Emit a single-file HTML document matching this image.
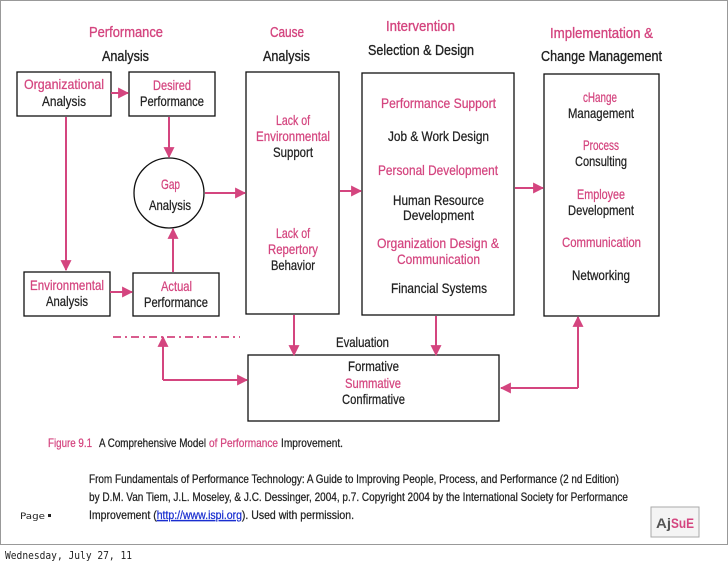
<!DOCTYPE html>
<html><head><meta charset="utf-8"><style>
html,body{margin:0;padding:0;background:#fff;}
svg{display:block;}
text{font-family:"Liberation Sans Narrow","Liberation Sans",sans-serif;font-size:14px;fill:#222;stroke:#222;stroke-width:0.25px;}
.p{fill:#d4457f;stroke:#d4457f;}
.s{font-size:12px;}
.t{font-size:15px;stroke-width:0.35px;}
</style></head><body>
<svg width="728" height="567" viewBox="0 0 728 567" xmlns="http://www.w3.org/2000/svg">
<defs>
<marker id="a" viewBox="0 0 10 10" refX="9" refY="5" markerWidth="5.5" markerHeight="5.5" orient="auto"><path d="M0,0L10,5L0,10z" fill="#d4457f"/></marker>
</defs>
<rect x="0.5" y="0.5" width="727" height="544" fill="#fff" stroke="#999"/>
<g fill="none" stroke="#111" stroke-width="1.3">
<rect x="17" y="72" width="94" height="44"/>
<rect x="129" y="72" width="86" height="44"/>
<rect x="24" y="272" width="86" height="44"/>
<rect x="133" y="273" width="86" height="43"/>
<circle cx="169" cy="193" r="35"/>
<rect x="246" y="72" width="93" height="242"/>
<rect x="362" y="73" width="152" height="242"/>
<rect x="544" y="74" width="115" height="242"/>
<rect x="248" y="355" width="251" height="66"/>
</g>
<g stroke="#d4457f" stroke-width="2" fill="none" marker-end="url(#a)">
<line x1="111" y1="93" x2="128" y2="93"/>
<line x1="66" y1="117" x2="66" y2="270"/>
<line x1="169" y1="117" x2="169" y2="157"/>
<line x1="173" y1="272" x2="173" y2="229"/>
<line x1="110" y1="292" x2="132" y2="292"/>
<line x1="205" y1="193" x2="245" y2="193"/>
<line x1="340" y1="191" x2="361" y2="191"/>
<line x1="515" y1="188" x2="543" y2="188"/>
<line x1="294" y1="315" x2="294" y2="355"/>
<line x1="436" y1="316" x2="436" y2="355"/>
<polyline points="163,380 163,337"/>
<line x1="163" y1="380" x2="247" y2="380"/>
<polyline points="578,388 578,317"/>
<line x1="578" y1="388" x2="501" y2="388"/>
</g>
<line x1="113" y1="337" x2="240" y2="337" stroke="#d4457f" stroke-width="1.8" stroke-dasharray="8,4,2,4"/>

<text class="p t" x="89" y="37" textLength="74" lengthAdjust="spacingAndGlyphs">Performance</text>
<text class="t" x="102" y="61" textLength="47" lengthAdjust="spacingAndGlyphs">Analysis</text>
<text class="p t" x="270" y="37" textLength="34" lengthAdjust="spacingAndGlyphs">Cause</text>
<text class="t" x="263" y="61" textLength="47" lengthAdjust="spacingAndGlyphs">Analysis</text>
<text class="p t" x="386" y="31" textLength="69" lengthAdjust="spacingAndGlyphs">Intervention</text>
<text class="t" x="368" y="55" textLength="106" lengthAdjust="spacingAndGlyphs">Selection &amp; Design</text>
<text class="p t" x="550" y="38" textLength="103" lengthAdjust="spacingAndGlyphs">Implementation &amp;</text>
<text class="t" x="541" y="61" textLength="121" lengthAdjust="spacingAndGlyphs">Change Management</text>

<text class="p" x="24" y="89" textLength="80" lengthAdjust="spacingAndGlyphs">Organizational</text>
<text x="42" y="106" textLength="44" lengthAdjust="spacingAndGlyphs">Analysis</text>
<text class="p" x="153" y="90" textLength="38" lengthAdjust="spacingAndGlyphs">Desired</text>
<text x="140" y="106" textLength="64" lengthAdjust="spacingAndGlyphs">Performance</text>
<text class="p" x="161" y="189" textLength="19" lengthAdjust="spacingAndGlyphs">Gap</text>
<text x="149" y="210" textLength="42" lengthAdjust="spacingAndGlyphs">Analysis</text>
<text class="p" x="30" y="290" textLength="74" lengthAdjust="spacingAndGlyphs">Environmental</text>
<text x="46" y="306" textLength="42" lengthAdjust="spacingAndGlyphs">Analysis</text>
<text class="p" x="161" y="291" textLength="31" lengthAdjust="spacingAndGlyphs">Actual</text>
<text x="144" y="307" textLength="64" lengthAdjust="spacingAndGlyphs">Performance</text>

<text class="p" x="276" y="125" textLength="34" lengthAdjust="spacingAndGlyphs">Lack of</text>
<text class="p" x="256" y="141" textLength="74" lengthAdjust="spacingAndGlyphs">Environmental</text>
<text x="273" y="157" textLength="40" lengthAdjust="spacingAndGlyphs">Support</text>
<text class="p" x="276" y="238" textLength="34" lengthAdjust="spacingAndGlyphs">Lack of</text>
<text class="p" x="268" y="254" textLength="50" lengthAdjust="spacingAndGlyphs">Repertory</text>
<text x="271" y="270" textLength="44" lengthAdjust="spacingAndGlyphs">Behavior</text>

<text class="p" x="381" y="108" textLength="115" lengthAdjust="spacingAndGlyphs">Performance Support</text>
<text x="388" y="141" textLength="101" lengthAdjust="spacingAndGlyphs">Job &amp; Work Design</text>
<text class="p" x="378" y="175" textLength="120" lengthAdjust="spacingAndGlyphs">Personal Development</text>
<text x="393" y="205" textLength="91" lengthAdjust="spacingAndGlyphs">Human Resource</text>
<text x="403" y="220" textLength="71" lengthAdjust="spacingAndGlyphs">Development</text>
<text class="p" x="377" y="248" textLength="122" lengthAdjust="spacingAndGlyphs">Organization Design &amp;</text>
<text class="p" x="397" y="264" textLength="83" lengthAdjust="spacingAndGlyphs">Communication</text>
<text x="391" y="293" textLength="96" lengthAdjust="spacingAndGlyphs">Financial Systems</text>

<text class="p" x="583" y="102" textLength="34" lengthAdjust="spacingAndGlyphs">cHange</text>
<text x="568" y="118" textLength="66" lengthAdjust="spacingAndGlyphs">Management</text>
<text class="p" x="583" y="150" textLength="36" lengthAdjust="spacingAndGlyphs">Process</text>
<text x="575" y="166" textLength="52" lengthAdjust="spacingAndGlyphs">Consulting</text>
<text class="p" x="577" y="199" textLength="48" lengthAdjust="spacingAndGlyphs">Employee</text>
<text x="568" y="215" textLength="66" lengthAdjust="spacingAndGlyphs">Development</text>
<text class="p" x="562" y="247" textLength="79" lengthAdjust="spacingAndGlyphs">Communication</text>
<text x="572" y="280" textLength="58" lengthAdjust="spacingAndGlyphs">Networking</text>

<text x="336" y="347" textLength="53" lengthAdjust="spacingAndGlyphs">Evaluation</text>
<text x="348" y="371" textLength="51" lengthAdjust="spacingAndGlyphs">Formative</text>
<text class="p" x="345" y="388" textLength="56" lengthAdjust="spacingAndGlyphs">Summative</text>
<text x="342" y="404" textLength="63" lengthAdjust="spacingAndGlyphs">Confirmative</text>

<text class="p s" x="48" y="447" textLength="44" lengthAdjust="spacingAndGlyphs">Figure 9.1</text>
<text class="s" x="99" y="447" textLength="107" lengthAdjust="spacingAndGlyphs">A Comprehensive Model</text>
<text class="p s" x="209" y="447" textLength="69" lengthAdjust="spacingAndGlyphs">of Performance</text>
<text class="s" x="281" y="447" textLength="62" lengthAdjust="spacingAndGlyphs">Improvement.</text>

<text class="s" x="89" y="483" textLength="530" lengthAdjust="spacingAndGlyphs">From Fundamentals of Performance Technology: A Guide to Improving People, Process, and Performance (2 nd Edition)</text>
<text class="s" x="89" y="501" textLength="539" lengthAdjust="spacingAndGlyphs">by D.M. Van Tiem, J.L. Moseley, &amp; J.C. Dessinger, 2004, p.7. Copyright 2004 by the International Society for Performance</text>
<text class="s" x="89" y="519" textLength="265" lengthAdjust="spacingAndGlyphs">Improvement (<tspan fill="#1a2fd0" stroke="#1a2fd0" text-decoration="underline">http://www.ispi.org</tspan>). Used with permission.</text>
<text x="20" y="519" style="font-family:'DejaVu Sans',sans-serif;font-size:9px;stroke-width:0" textLength="25" lengthAdjust="spacingAndGlyphs">Page</text>
<rect x="48" y="514" width="3" height="3" fill="#222"/>

<rect x="651" y="507" width="48" height="30" fill="#f4f4f4" stroke="#aaa"/>
<text x="656" y="528" style="font-family:'Liberation Sans',sans-serif;font-weight:bold;font-size:14px;fill:#555;stroke-width:0" textLength="15" lengthAdjust="spacingAndGlyphs">Aj</text>
<text x="671" y="528" style="font-family:'Liberation Sans',sans-serif;font-weight:bold;font-size:14px;fill:#d4457f;stroke-width:0" textLength="23" lengthAdjust="spacingAndGlyphs">SuE</text>

<text x="5" y="559" style="font-family:'DejaVu Sans Mono','Liberation Mono',monospace;font-size:11px;stroke-width:0" textLength="127" lengthAdjust="spacingAndGlyphs">Wednesday, July 27, 11</text>
</svg>
</body></html>
